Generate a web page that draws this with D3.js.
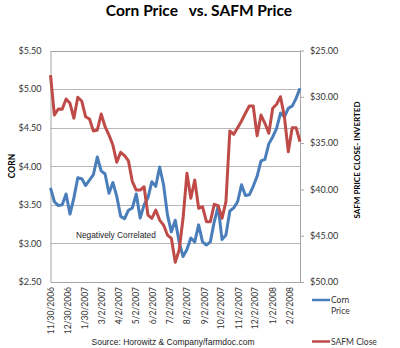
<!DOCTYPE html>
<html>
<head>
<meta charset="utf-8">
<script src="https://cdn.jsdelivr.net/npm/d3@7"></script>
<style>
  body { margin: 0; background: #fff; }
  text { font-family: Lato, "Open Sans", sans-serif; fill: #222; }
</style>
</head>
<body>
<svg id="chart" width="400" height="348"></svg>
<script>
// weekly closes, 11/30/2006 .. 2/21/2008
const startDate = new Date(2006, 10, 30);
const cornPrice = [
  3.72, 3.54, 3.49, 3.50, 3.64, 3.38, 3.59, 3.85, 3.84, 3.75,
  3.82, 3.89, 4.12, 3.94, 3.90, 3.65, 3.79, 3.61, 3.35, 3.32,
  3.43, 3.46, 3.64, 3.33, 3.50, 3.59, 3.80, 3.74, 3.99, 3.76,
  3.37, 3.15, 3.30, 3.02, 2.83, 2.92, 3.07, 3.02, 3.24, 3.02,
  2.98, 3.02, 3.28, 3.48, 3.05, 3.11, 3.42, 3.46, 3.54, 3.76,
  3.62, 3.63, 3.74, 3.87, 4.07, 4.09, 4.29, 4.38, 4.49, 4.69,
  4.64, 4.75, 4.78, 4.88, 5.01
];
const safmClose = [
  27.65, 31.97, 31.32, 31.35, 30.24, 30.70, 32.32, 30.05, 30.45, 32.15,
  32.40, 33.69, 33.59, 31.86, 33.23, 34.13, 35.21, 37.07, 35.99, 36.36,
  36.93, 39.17, 40.07, 40.07, 39.71, 42.77, 43.12, 42.23, 43.31, 43.85,
  44.93, 45.28, 47.87, 46.55, 43.12, 38.26, 40.96, 38.99, 42.04, 41.87,
  43.49, 43.49, 41.61, 41.76, 43.12, 41.33, 33.69, 34.05, 33.34, 32.61,
  31.78, 30.99, 30.99, 34.20, 31.97, 32.86, 33.94, 31.24, 30.81, 29.99,
  32.15, 35.93, 33.34, 33.34, 34.85
];
const tickDates = [
  "11/30/2006", "12/30/2006", "1/30/2007", "3/2/2007", "4/2/2007",
  "5/2/2007", "6/2/2007", "7/2/2007", "8/2/2007", "9/2/2007",
  "10/2/2007", "11/2/2007", "12/2/2007", "1/2/2008", "2/2/2008"
];
const cornTicks = [2.5, 3.0, 3.5, 4.0, 4.5, 5.0, 5.5];
const safmTicks = [25, 30, 35, 40, 45, 50];

const parseDate = d3.timeParse("%m/%d/%Y");
const dates = cornPrice.map((d, i) => d3.timeDay.offset(startDate, 7 * i));

const svg = d3.select("#chart");
const plotLeft = 50.5, plotRight = 300, plotTop = 50.5, plotBottom = 282;

const x = d3.scaleTime().domain([dates[0], dates[dates.length - 1]]).range([plotLeft, plotRight]);
const yCorn = d3.scaleLinear().domain([2.5, 5.5]).range([plotBottom, plotTop]);
// secondary axis runs upside down
const ySafm = d3.scaleLinear().domain([25, 50]).range([plotTop, plotBottom]);

// title
svg.append("text")
  .attr("x", 199).attr("y", 16)
  .attr("text-anchor", "middle")
  .attr("font-size", 15.5).attr("font-weight", "bold")
  .style("white-space", "pre")
  .style("fill", "#000")
  .text("Corn Price   vs. SAFM Price");

// gridlines from the corn axis (top one closes the frame)
svg.append("g")
  .selectAll("line")
  .data(cornTicks.slice(1))
  .join("line")
  .attr("x1", plotLeft).attr("x2", plotRight)
  .attr("y1", d => Math.round(yCorn(d)) + 0.5).attr("y2", d => Math.round(yCorn(d)) + 0.5)
  .attr("stroke", d => d === 5.5 ? "#a6a6a6" : "#b8b8b8").attr("stroke-width", 1);

// left axis
const gLeft = svg.append("g")
  .attr("transform", `translate(${plotLeft},0)`)
  .call(d3.axisLeft(yCorn).tickValues(cornTicks).tickSize(0).tickPadding(9)
    .tickFormat(d3.format("$.2f")));
gLeft.select(".domain").attr("stroke", "#a6a6a6");
gLeft.selectAll("text").attr("font-size", 9).style("font-family", "Lato, sans-serif").style("fill", "#333");

// right axis
const gRight = svg.append("g")
  .attr("transform", `translate(${plotRight},0)`)
  .call(d3.axisRight(ySafm).tickValues(safmTicks).tickSize(4).tickSizeOuter(0).tickPadding(6)
    .tickFormat(d3.format("$.2f")));
gRight.select(".domain").attr("stroke", "#a6a6a6");
gRight.selectAll("line").attr("stroke", "#a6a6a6");
gRight.selectAll("text").attr("font-size", 9).style("font-family", "Lato, sans-serif").style("fill", "#333");

// bottom axis
const gBottom = svg.append("g")
  .attr("transform", `translate(0,${plotBottom})`)
  .call(d3.axisBottom(x).tickValues(tickDates.map(parseDate)).tickSize(0).tickFormat(d3.timeFormat("%-m/%-d/%Y")));
gBottom.select(".domain").attr("stroke", "#a6a6a6");
gBottom.selectAll("text")
  .attr("font-size", 8.5)
  .style("font-family", "Lato, sans-serif").style("fill", "#333")
  .attr("text-anchor", "end")
  .attr("transform", "rotate(-90)")
  .attr("x", -5).attr("y", 0).attr("dy", "0.35em");

// axis titles
svg.append("text")
  .attr("transform", "translate(15,166) rotate(-90)")
  .attr("text-anchor", "middle")
  .attr("font-size", 8.5).attr("font-weight", "bold")
  .style("fill", "#000")
  .text("CORN");

svg.append("text")
  .attr("transform", "translate(360,160) rotate(-90)")
  .attr("text-anchor", "middle")
  .attr("font-size", 8).attr("font-weight", "bold")
  .style("fill", "#000")
  .text("SAFM PRICE CLOSE- INVERTED");

// series
const cornLine = d3.line().x((d, i) => x(dates[i])).y(d => yCorn(d));
const safmLine = d3.line().x((d, i) => x(dates[i])).y(d => ySafm(d));

svg.append("path")
  .datum(cornPrice)
  .attr("fill", "none")
  .attr("stroke", "#4a7ebb").attr("stroke-width", 3)
  .attr("stroke-linejoin", "round")
  .attr("d", cornLine);

svg.append("path")
  .datum(safmClose)
  .attr("fill", "none")
  .attr("stroke", "#be4b48").attr("stroke-width", 3)
  .attr("stroke-linejoin", "round")
  .attr("d", safmLine);

// annotation
svg.append("text")
  .attr("x", 76).attr("y", 238)
  .attr("font-size", 8.3)
  .style("font-family", "'Liberation Sans', Arial, sans-serif")
  .text("Negatively Correlated");

// legend
const legend = svg.append("g");
legend.append("line")
  .attr("x1", 312).attr("x2", 330).attr("y1", 300).attr("y2", 300)
  .attr("stroke", "#4a7ebb").attr("stroke-width", 2.5);
legend.append("text").attr("x", 331).attr("y", 303).attr("font-size", 8.5).style("fill", "#333").text("Corn");
legend.append("text").attr("x", 331).attr("y", 314).attr("font-size", 8.5).style("fill", "#333").text("Price");
legend.append("line")
  .attr("x1", 312).attr("x2", 330).attr("y1", 341.5).attr("y2", 341.5)
  .attr("stroke", "#be4b48").attr("stroke-width", 2.5);
legend.append("text").attr("x", 331).attr("y", 344.5).attr("font-size", 8.5).style("fill", "#333").text("SAFM Close");

// source line
svg.append("text")
  .attr("x", 173).attr("y", 345)
  .attr("text-anchor", "middle")
  .attr("font-size", 8.5)
  .style("font-family", "'Liberation Sans', Arial, sans-serif")
  .text("Source: Horowitz & Company/farmdoc.com");
</script>
</body>
</html>
